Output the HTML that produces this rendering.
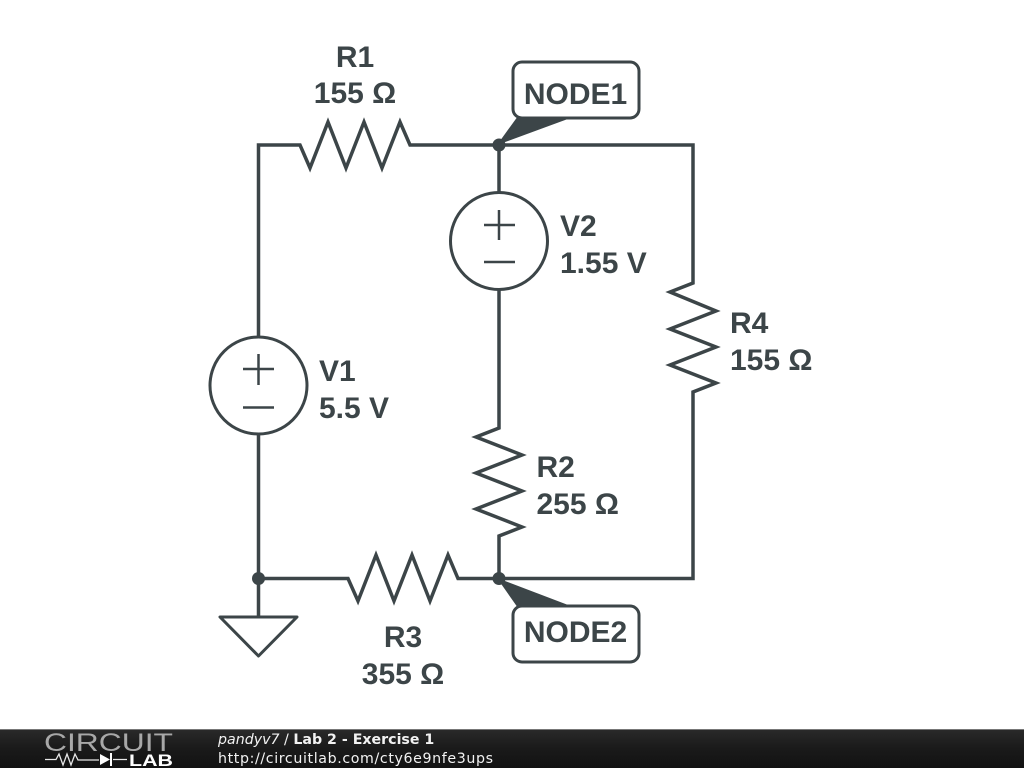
<!DOCTYPE html>
<html><head><meta charset="utf-8"><style>
html,body{margin:0;padding:0;background:#fff;width:1024px;height:768px;overflow:hidden}
svg{display:block}
.l{font:bold 30px "Liberation Sans",sans-serif;fill:#3c4548}
.f{font-family:"DejaVu Sans",sans-serif;font-size:14.200px;fill:#f2f2f2}
</style></head><body>
<svg width="1024" height="768" viewBox="0 0 1024 768" xmlns="http://www.w3.org/2000/svg">
<defs><linearGradient id="g" x1="0" y1="0" x2="0" y2="1"><stop offset="0" stop-color="#2a2a2a"/><stop offset="0.5" stop-color="#1a1a1a"/><stop offset="1" stop-color="#121212"/></linearGradient></defs>
<g fill="none" stroke="#3c4548" stroke-width="3.500" stroke-linejoin="miter">
<polyline points="258.500,338 258.500,145 300,145 310,168 328,122 346,168 364,122 382,168 400,122 410,145 693,145 693,283 670,292 716,311 670,329 716,347 670,365 716,383 693,392 693,578.500 499,578.500"/>
<polyline points="499,145 499,193"/>
<polyline points="499,289 499,428 476,437 522,455 476,473 522,491 476,509 522,527 499,536 499,578"/>
<polyline points="499,578.500 458,578.500 448,555 430,601 412,555 394,601 376,555 358,601 348,578.500 258,578.500"/>
<polyline points="258.500,434 258.500,617"/>
<circle cx="258.500" cy="385.500" r="48.500" stroke-width="3"/>
<circle cx="499" cy="241" r="48.500" stroke-width="3"/>
<path d="M220,617H297L258.500,656Z" stroke-linejoin="round" stroke-width="3"/>
<path d="M243,369H274M258.500,354V385M243,407.500H274" stroke-width="2.500"/>
<path d="M484,225H515M499,210V240M484,262H515" stroke-width="2.500"/>
</g>
<g fill="#3c4548">
<circle cx="499" cy="145" r="6.500"/><circle cx="499" cy="578.500" r="6.500"/><circle cx="258.500" cy="578.500" r="6.500"/>
<path d="M497,145L518,116H576Z"/>
<path d="M497,578L518,608H576Z"/>
</g>
<g fill="#fff" stroke="#3c4548" stroke-width="3">
<rect x="513" y="62" width="126" height="56" rx="9"/>
<rect x="513" y="606" width="126" height="56" rx="9"/>
</g>
<g class="l">
<text class="l" x="355" y="67" text-anchor="middle">R1</text>
<text class="l" x="355" y="103" text-anchor="middle">155 Ω</text>
<text class="l" x="575.500" y="104" text-anchor="middle">NODE1</text>
<text class="l" x="560" y="236">V2</text>
<text class="l" x="560" y="273">1.55 V</text>
<text class="l" x="730" y="333">R4</text>
<text class="l" x="730" y="370">155 Ω</text>
<text class="l" x="319" y="381">V1</text>
<text class="l" x="319" y="418">5.5 V</text>
<text class="l" x="536.500" y="477">R2</text>
<text class="l" x="536.500" y="514">255 Ω</text>
<text class="l" x="403" y="647" text-anchor="middle">R3</text>
<text class="l" x="403" y="684" text-anchor="middle">355 Ω</text>
<text class="l" x="575.500" y="642" text-anchor="middle">NODE2</text>
</g>
<rect x="0" y="729" width="1024" height="39" fill="url(#g)"/>
<rect x="0" y="729" width="1024" height="1" fill="#777"/>
<text x="44" y="751" font-family="Liberation Sans,sans-serif" font-size="25" fill="#a8a8a8" textLength="129" lengthAdjust="spacingAndGlyphs">CIRCUIT</text>
<path d="M45,759.500H56L59,754L63,765L67,754L71,765L75,754L78,760H99M113,759.500H127" fill="none" stroke="#e8e8e8" stroke-width="1.300"/>
<path d="M100,754L110,759.500L100,765Z" fill="#fff"/>
<rect x="110" y="753" width="2" height="13" fill="#fff"/>
<text x="129" y="766" font-family="Liberation Sans,sans-serif" font-weight="bold" font-size="17" fill="#fff" textLength="44" lengthAdjust="spacingAndGlyphs">LAB</text>
<text class="f" x="218" y="744"><tspan font-style="italic">pandyv7</tspan> / <tspan font-weight="bold">Lab 2 - Exercise 1</tspan></text>
<text class="f" x="218" y="763" textLength="275">http://circuitlab.com/cty6e9nfe3ups</text>
</svg>
</body></html>
